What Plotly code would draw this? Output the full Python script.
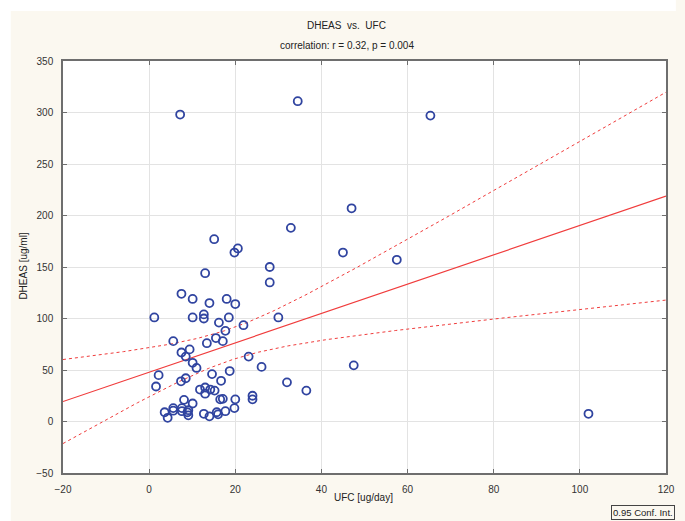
import numpy as np
import plotly.graph_objects as go

# ---- data ----
ufc = [7.2, 34.5, 65.3, 47.0, 32.9, 45.0, 57.5, 15.1, 19.8, 20.6,
       13.0, 28.0, 28.0, 7.5, 10.1, 14.0, 18.0, 20.0, 1.2, 10.1,
       12.7, 12.7, 18.5, 30.0, 16.2, 17.7, 21.9, 5.6, 7.5, 9.4,
       8.5, 13.4, 15.5, 17.1, 10.1, 11.0, 2.2, 1.6, 7.4, 8.5,
       14.6, 16.7, 18.7, 23.1, 26.1, 11.8, 13.0, 13.0, 14.2, 15.2,
       8.1, 10.1, 16.5, 17.1, 20.0, 19.8, 24.0, 24.0, 3.6, 4.3,
       5.6, 5.6, 7.6, 7.6, 8.9, 9.1, 9.1, 12.7, 14.0, 15.7,
       16.0, 17.7, 32.0, 36.5, 47.5, 102.0]
dheas = [298, 311, 297, 207, 188, 164, 157, 177, 164, 168,
         144, 150, 135, 124, 119, 115, 119, 114, 101, 101,
         104, 100, 101, 101, 96, 88, 93.5, 78, 67, 70,
         63, 76, 81, 78, 57, 52, 45, 34, 39, 42,
         46, 39.5, 49, 63, 53, 31, 33, 27, 31, 30,
         21, 17.5, 21.5, 22, 21.5, 13, 25, 21.5, 9, 3.6,
         13, 10.5, 13, 10, 9, 6, 11, 7.5, 5, 9,
         7, 10, 38, 30, 54.5, 7.5]

x_ticks = [-20, 0, 20, 40, 60, 80, 100, 120]
y_ticks = [-50, 0, 50, 100, 150, 200, 250, 300, 350]

title_text = "DHEAS  vs.  UFC"
subtitle_text = "correlation: r = 0.32, p = 0.004"
x_label = "UFC [ug/day]"
y_label = "DHEAS [ug/ml]"
legend_text = "0.95 Conf. Int."

# ---- linear regression and 95% confidence band of the mean ----
x = np.array(ufc, dtype=float)
y = np.array(dheas, dtype=float)
n = len(x)
slope, intercept = np.polyfit(x, y, 1)
resid = y - (intercept + slope * x)
s = np.sqrt(np.sum(resid ** 2) / (n - 2))
xbar = x.mean()
sxx = np.sum((x - xbar) ** 2)
df = n - 2
z = 1.959964
tcrit = z + (z**3 + z) / (4 * df) + (5 * z**5 + 16 * z**3 + 3 * z) / (96 * df**2)

xg = np.linspace(x_ticks[0], x_ticks[-1], 300)
yfit = intercept + slope * xg
half = tcrit * s * np.sqrt(1.0 / n + (xg - xbar) ** 2 / sxx)

RED = "#F03C3C"
BLUE = "#3044A0"
FONT = "Liberation Sans Narrow, Arial Narrow, Liberation Sans, Arial, sans-serif"

fig = go.Figure()
fig.add_trace(go.Scatter(x=xg, y=yfit + half, mode="lines",
                         line=dict(color=RED, width=1, dash="dot"), hoverinfo="skip"))
fig.add_trace(go.Scatter(x=xg, y=yfit - half, mode="lines",
                         line=dict(color=RED, width=1, dash="dot"), hoverinfo="skip"))
fig.add_trace(go.Scatter(x=xg, y=yfit, mode="lines",
                         line=dict(color=RED, width=1.2), hoverinfo="skip"))
fig.add_trace(go.Scatter(x=ufc, y=dheas, mode="markers",
                         marker=dict(symbol="circle-open", size=8, color=BLUE,
                                     line=dict(width=1.8, color=BLUE))))

L, R, T, B = 63, 10, 61, 48
W, H = 685, 521
pw, ph = W - L - R, H - T - B


def px_x(p):
    return (p - L) / pw


def px_y(p):
    return (H - B - p) / ph


axis_common = dict(showgrid=True, gridcolor="#E3E3E3", gridwidth=1,
                   zeroline=False, showline=True, linecolor="#6E6E6E", linewidth=1.5,
                   mirror="ticks", ticks="inside", ticklen=4, tickcolor="#6E6E6E",
                   ticklabelstandoff=6,
                   tickfont=dict(family=FONT, size=10, color="#333333"))


def label(text, px, py, size=10, xanchor="center", yanchor="middle", **kw):
    return dict(text=text, xref="paper", yref="paper", x=px_x(px), y=px_y(py),
                xanchor=xanchor, yanchor=yanchor, showarrow=False,
                font=dict(family=FONT, size=size, color="#222222"), **kw)


fig.update_layout(
    width=W, height=H,
    margin=dict(l=L, r=R, t=T, b=B),
    paper_bgcolor="#FBF8F0",
    plot_bgcolor="#FFFFFF",
    showlegend=False,
    xaxis=dict(range=[x_ticks[0], x_ticks[-1]], tickvals=x_ticks, **axis_common),
    yaxis=dict(range=[y_ticks[0], y_ticks[-1]], tickvals=y_ticks, **axis_common),
    shapes=[
        dict(type="rect", xref="paper", yref="paper", x0=px_x(0), x1=px_x(W),
             y0=px_y(11), y1=px_y(-2), fillcolor="white", line=dict(width=0), layer="below"),
        dict(type="rect", xref="paper", yref="paper", x0=px_x(-2), x1=px_x(10),
             y0=px_y(H + 2), y1=px_y(0), fillcolor="white", line=dict(width=0), layer="below"),
    ],
    annotations=[
        label(title_text, 351, 26),
        label(subtitle_text, 351, 45),
        label(x_label, 368, 497),
        label(y_label, 22, 266, textangle=-90),
        label(legend_text, 684, 520, size=9.5, xanchor="right", yanchor="bottom",
              bordercolor="#444444", borderwidth=1, borderpad=1, bgcolor="#FBF8F0"),
    ],
)

fig.write_html("out.html")
